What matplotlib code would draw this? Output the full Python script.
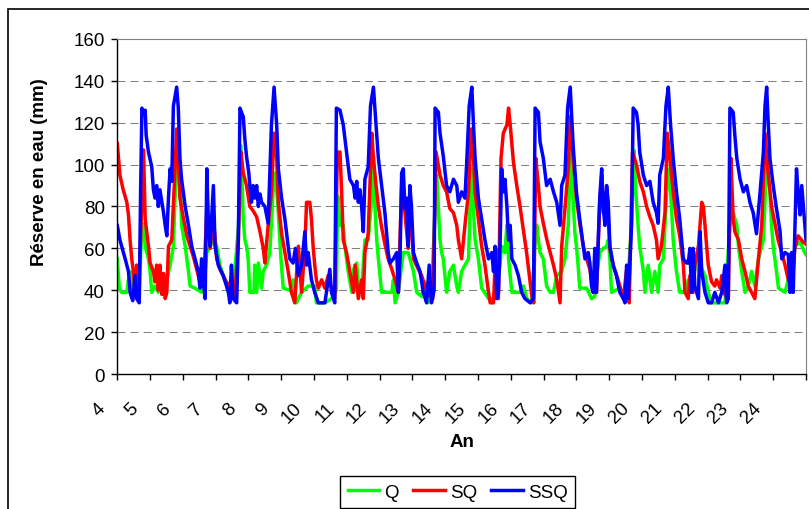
import matplotlib
matplotlib.use('Agg')
import matplotlib.pyplot as plt
import matplotlib.patches as patches
from matplotlib.transforms import ScaledTranslation

plt.rcParams['font.family'] = ['Liberation Sans', 'DejaVu Sans']

# tick labels of the year axis
year_labels = list(range(4, 25))

# SSQ (blue)
ssq_years = [4.00, 4.08, 4.24, 4.34, 4.39, 4.47, 4.54, 4.59, 4.67, 4.71, 4.75, 4.80, 4.85, 4.88, 4.95, 5.05, 5.10, 5.15, 5.20, 5.25,
             5.30, 5.36, 5.41, 5.46, 5.51, 5.56, 5.61, 5.66, 5.71, 5.81, 5.86, 5.91, 5.96, 6.07, 6.17, 6.27, 6.37, 6.47, 6.52, 6.57,
             6.63, 6.68, 6.73, 6.78, 6.83, 6.88, 6.93, 6.98, 7.08, 7.23, 7.39,
             7.43, 7.48, 7.53, 7.64, 7.69, 7.74, 7.81, 7.84, 7.89, 7.94, 8.01, 8.04, 8.09, 8.14, 8.19, 8.25, 8.30, 8.35, 8.40, 8.50,
             8.55, 8.60, 8.65, 8.70, 8.78, 8.86, 8.91, 9.01, 9.11, 9.21, 9.26, 9.36, 9.43, 9.52, 9.62, 9.72, 9.77, 9.82, 9.92, 10.02,
             10.13, 10.33, 10.48, 10.53, 10.63, 10.68,
             10.79, 10.89, 10.99, 11.09, 11.20, 11.25, 11.30, 11.35, 11.40, 11.45, 11.50, 11.55, 11.65, 11.72, 11.81, 11.89, 11.96, 12.06, 12.16, 12.26,
             12.31, 12.42, 12.52, 12.57, 12.62, 12.67, 12.72, 12.77, 12.82, 12.87, 12.92, 12.97, 13.03, 13.13, 13.23, 13.33, 13.43, 13.51, 13.58, 13.66,
             13.69, 13.79, 13.84, 13.94, 14.04, 14.14, 14.25, 14.35,
             14.40, 14.50, 14.60, 14.66, 14.73, 14.81, 14.86, 14.91, 15.01, 15.11, 15.21, 15.32, 15.42, 15.47, 15.52, 15.57, 15.62, 15.67, 15.72, 15.77,
             15.82, 15.88, 15.93, 15.98, 16.03, 16.13, 16.23, 16.33, 16.43, 16.59, 16.69, 16.74, 16.84, 16.89, 16.99, 17.09, 17.20, 17.30, 17.40, 17.50,
             17.55, 17.65, 17.73, 17.81, 17.86,
             17.90, 17.95, 18.00, 18.10, 18.21, 18.26, 18.36, 18.41, 18.46, 18.51, 18.56, 18.61, 18.66, 18.71, 18.77, 18.82, 18.87, 18.92, 18.97, 19.02,
             19.12, 19.22, 19.32, 19.43, 19.48, 19.53, 19.58, 19.68, 19.73, 19.83, 19.88, 19.93, 20.04, 20.14, 20.24, 20.34, 20.44, 20.49, 20.54, 20.65,
             20.73, 20.80, 20.87, 20.95, 21.05, 21.15, 21.26, 21.36,
             21.41, 21.46, 21.51, 21.56, 21.61, 21.72, 21.77, 21.82, 21.92, 22.02, 22.12, 22.22, 22.33, 22.43, 22.53, 22.58, 22.63, 22.68, 22.78, 22.83,
             22.89, 22.99, 23.09, 23.19, 23.29, 23.39, 23.49, 23.60, 23.70, 23.75, 23.80, 23.85, 23.90, 24.00, 24.10, 24.21, 24.26, 24.36, 24.46, 24.51,
             24.56, 24.61, 24.71, 24.76, 24.82, 24.87, 24.95, 25.00]
ssq_vals = [71, 64, 55, 49, 39, 35, 47, 36, 34, 87, 127, 124, 126, 114, 106, 99, 88, 84, 90, 80,
            88, 82, 77, 71, 66, 84, 98, 92, 128, 137, 127, 103, 93, 80, 71, 61, 55, 49, 41, 55,
            43, 36, 98, 71, 61, 76, 90, 61, 52, 47, 39,
            34, 52, 36, 34, 64, 127, 124, 123, 112, 104, 96, 90, 82, 90, 84, 90, 80, 86, 82, 80,
            76, 72, 95, 119, 137, 119, 98, 84, 74, 61, 55, 53, 60, 47, 52, 68, 52, 58, 45, 39,
            34, 34, 50, 39, 34, 127,
            126, 119, 106, 93, 90, 84, 92, 82, 88, 80, 68, 93, 99, 128, 137, 119, 103, 90, 77, 58,
            53, 55, 58, 39, 55, 96, 98, 79, 84, 61, 90, 80, 58, 53, 49, 39, 34, 52, 34, 40,
            127, 125, 115, 104, 90, 87, 93, 90,
            82, 87, 84, 103, 128, 137, 119, 103, 84, 74, 64, 55, 58, 49, 61, 36, 39, 61, 98, 87,
            93, 80, 64, 71, 55, 52, 47, 39, 36, 34, 36, 127, 125, 111, 103, 90, 93, 87, 82, 71,
            90, 95, 127, 137, 122,
            109, 98, 87, 74, 61, 55, 58, 53, 42, 39, 60, 39, 61, 84, 98, 79, 71, 90, 82, 61,
            52, 47, 39, 36, 34, 52, 36, 71, 127, 125, 119, 106, 95, 90, 92, 82, 77, 72, 95, 103,
            128, 137, 119, 103, 87, 74, 55, 53,
            53, 60, 39, 60, 42, 36, 68, 49, 39, 34, 34, 39, 34, 39, 52, 34, 36, 127, 125, 114,
            103, 93, 87, 90, 82, 77, 67, 87, 106, 128, 137, 119, 103, 90, 79, 68, 55, 58, 57, 39,
            58, 39, 98, 87, 76, 90, 74, 64]

# SQ (red)
sq_years = [4.00, 4.08, 4.18, 4.29, 4.34, 4.39, 4.44, 4.49, 4.54, 4.59, 4.64, 4.69, 4.75, 4.80, 4.85, 4.95, 5.00, 5.10, 5.15, 5.20,
            5.25, 5.30, 5.36, 5.41, 5.46, 5.51, 5.56, 5.66, 5.76, 5.81, 5.86, 5.91, 6.02, 6.12, 6.22, 6.32, 6.42, 6.52, 6.63, 6.73,
            6.83, 6.93, 7.03, 7.13, 7.29, 7.39,
            7.48, 7.58, 7.69, 7.77, 7.84, 7.94, 8.04, 8.14, 8.25, 8.35, 8.45, 8.50, 8.60, 8.70, 8.78, 8.86, 8.91, 9.01, 9.11, 9.21,
            9.31, 9.41, 9.52, 9.62, 9.72, 9.77, 9.87, 9.92, 9.97, 10.02, 10.07, 10.13, 10.23, 10.33, 10.43, 10.53, 10.63, 10.71,
            10.79, 10.84, 10.89, 10.99, 11.09, 11.20, 11.25, 11.35, 11.45, 11.50, 11.55, 11.65, 11.76, 11.81, 11.89, 11.96, 12.06, 12.16, 12.26, 12.37,
            12.47, 12.57, 12.67, 12.77, 12.87, 12.92, 13.03, 13.18, 13.28, 13.38, 13.48, 13.62, 13.72, 13.84, 13.94, 14.04, 14.14, 14.25, 14.35,
            14.40, 14.50, 14.60, 14.71, 14.79, 14.86, 14.91, 15.01, 15.11, 15.21, 15.32, 15.37, 15.47, 15.54, 15.62, 15.70, 15.77, 15.88, 15.93, 15.98,
            16.08, 16.18, 16.28, 16.38, 16.48, 16.58, 16.64, 16.70, 16.76, 16.84, 16.89, 16.99, 17.10, 17.20, 17.30, 17.40, 17.50, 17.55, 17.65,
            17.76,
            17.81, 17.90, 18.00, 18.10, 18.21, 18.31, 18.41, 18.51, 18.61, 18.71, 18.77, 18.82, 18.92, 19.02, 19.12, 19.27, 19.43, 19.53, 19.61, 19.71,
            19.83, 19.93, 20.04, 20.14, 20.24, 20.34, 20.44, 20.49, 20.59, 20.70, 20.77, 20.85, 20.95, 21.05, 21.15, 21.26, 21.31, 21.41,
            21.46, 21.56, 21.61, 21.72, 21.82, 21.87, 21.92, 21.97, 22.02, 22.12, 22.22, 22.27, 22.38, 22.43, 22.48, 22.63, 22.71, 22.78, 22.83, 22.94,
            23.04, 23.14, 23.24, 23.34, 23.44, 23.55, 23.65, 23.75, 23.85, 23.95, 24.05, 24.15, 24.26, 24.36, 24.46, 24.56, 24.66, 24.76, 24.91, 25.00]
sq_vals = [110, 95, 88, 82, 76, 64, 55, 49, 39, 52, 41, 55, 84, 107, 74, 61, 53, 49, 44, 52,
           40, 52, 38, 48, 36, 39, 61, 64, 98, 117, 103, 84, 74, 66, 61, 56, 50, 44, 42, 79,
           60, 75, 55, 50, 45, 42,
           45, 36, 64, 106, 96, 90, 80, 78, 75, 68, 60, 53, 71, 87, 115, 103, 82, 67, 58, 49,
           39, 34, 61, 39, 61, 82, 82, 74, 61, 52, 45, 41, 45, 41, 47, 41, 36, 106,
           106, 87, 64, 58, 49, 39, 52, 36, 45, 36, 58, 67, 115, 103, 90, 80, 70, 62, 55, 50,
           45, 39, 90, 77, 60, 84, 55, 50, 47, 42, 38, 36, 106, 95, 90, 87, 79, 77, 71,
           64, 55, 71, 87, 117, 103, 87, 74, 61, 52, 39, 34, 34, 60, 36, 103, 115, 119, 127, 119,
           101, 90, 80, 69, 58, 45, 37, 34, 103, 90, 80, 72, 64, 58, 52, 45, 34, 61, 79,
           100,
           123, 103, 84, 72, 61, 55, 50, 39, 39, 82, 95, 77, 88, 60, 52, 45, 36, 50, 34, 106,
           100, 92, 87, 80, 75, 71, 64, 55, 61, 77, 115, 103, 87, 74, 66, 52, 39, 36,
           47, 39, 52, 61, 82, 80, 71, 61, 52, 44, 42, 45, 41, 47, 39, 36, 103, 74, 68, 64,
           55, 49, 42, 39, 36, 55, 71, 115, 95, 80, 72, 64, 58, 52, 45, 42, 60, 66, 63, 62]

# Q (green)
q_years = [4.00, 4.06, 4.13, 4.29, 4.34, 4.39, 4.44, 4.54, 4.67, 4.75, 4.80, 4.85, 4.95, 5.00, 5.05, 5.15, 5.25, 5.36, 5.46, 5.51,
           5.61, 5.71, 5.76, 5.84, 5.91, 5.96, 6.07, 6.17, 6.22, 6.37, 6.57, 6.68, 6.73, 6.83, 6.93, 7.03, 7.13, 7.23, 7.34,
           7.38, 7.53, 7.69, 7.77, 7.81, 7.84, 7.89, 7.94, 7.99, 8.04, 8.17, 8.19, 8.25, 8.30, 8.40, 8.45, 8.55, 8.65, 8.75, 8.82,
           8.89, 8.93, 8.99, 9.06, 9.26, 9.36, 9.46, 9.62, 9.82, 10.02, 10.07, 10.33, 10.53, 10.68, 10.72,
           10.79, 10.89, 10.94, 11.04, 11.15, 11.20, 11.30, 11.35, 11.45, 11.55, 11.65, 11.76, 11.81, 11.86, 11.91, 11.96, 12.06, 12.37, 12.42, 12.47,
           12.57, 12.67, 12.72, 12.87, 13.03, 13.13, 13.28, 13.38, 13.48, 13.58, 13.64, 13.74, 13.79, 13.84, 13.89, 13.94, 14.04, 14.14, 14.25, 14.35,
           14.40, 14.50, 14.60, 14.71, 14.79, 14.86, 14.91, 15.01, 15.11, 15.32, 15.52, 15.67, 15.72, 15.82, 15.88, 15.93, 16.03, 16.28, 16.38, 16.49,
           16.64, 16.74, 16.79, 16.84, 16.89, 16.99, 17.09, 17.20, 17.30, 17.40, 17.55, 17.65, 17.75, 17.82, 17.88, 17.95,
           18.00, 18.05, 18.10, 18.31, 18.46, 18.56, 18.66, 18.71, 18.82, 18.92, 18.97, 19.02, 19.07, 19.32, 19.43, 19.53, 19.68, 19.75, 19.81, 19.88,
           19.93, 20.04, 20.09, 20.19, 20.29, 20.39, 20.49, 20.54, 20.65, 20.75, 20.83, 20.90, 20.95, 21.05, 21.15, 21.31, 21.41,
           21.51, 21.72, 21.77, 21.92, 22.02, 22.12, 22.53, 22.68, 22.78, 22.89, 22.94, 23.04, 23.14, 23.24, 23.34, 23.44, 23.55, 23.70, 23.80, 23.90,
           23.95, 24.00, 24.10, 24.16, 24.36, 24.46, 24.56, 24.66, 24.82, 24.96, 25.00]
q_vals = [55, 41, 39, 39, 45, 39, 49, 39, 39, 72, 71, 61, 55, 49, 39, 42, 39, 44, 40, 45,
          52, 61, 84, 105, 98, 71, 61, 49, 42, 41, 39, 49, 58, 61, 64, 61, 52, 47, 42,
          39, 40, 69, 109, 88, 74, 64, 61, 55, 39, 39, 52, 39, 53, 41, 49, 52, 58, 87, 96,
          82, 71, 55, 41, 40, 45, 34, 39, 42, 42, 34, 34, 36, 40, 85,
          71, 71, 61, 49, 39, 50, 53, 42, 39, 64, 64, 84, 104, 79, 64, 55, 39, 39, 45, 34,
          39, 52, 58, 58, 49, 39, 37, 44, 34, 40, 61, 95, 79, 64, 58, 55, 39, 49, 52, 42,
          39, 49, 52, 55, 98, 79, 64, 55, 41, 36, 36, 52, 61, 58, 71, 55, 39, 39, 42, 36,
          34, 64, 71, 64, 58, 55, 42, 39, 39, 47, 49, 55, 71, 105, 90, 68,
          61, 52, 41, 41, 36, 37, 52, 58, 60, 61, 64, 55, 39, 41, 39, 36, 71, 107, 87, 71,
          61, 49, 39, 52, 39, 49, 39, 52, 55, 87, 98, 79, 64, 49, 39, 39, 45,
          39, 61, 52, 47, 39, 34, 34, 71, 77, 71, 61, 49, 39, 42, 49, 42, 55, 64, 103, 87,
          71, 61, 49, 41, 39, 45, 39, 61, 63, 58, 57]

fig = plt.figure(figsize=(8.09, 5.10), dpi=100)
ax = fig.add_axes([0.145, 0.2647, 0.8513, 0.6569])

# horizontal dashed gridlines
for yv in range(20, 160, 20):
    ax.axhline(yv, color='#808080', lw=0.75, dashes=(7.7, 4.8), zorder=0)

ax.plot(q_years, q_vals, color='#00FF00', lw=2.5, label='Q')
ax.plot(sq_years, sq_vals, color='#FF0000', lw=2.5, label='SQ')
ax.plot(ssq_years, ssq_vals, color='#0000FF', lw=2.5, label='SSQ')

ax.set_xlim(4, 25)
ax.set_ylim(0, 160)
ax.set_yticks(range(0, 161, 20))
ax.set_xticks(range(4, 26))
ax.set_xticklabels([])
ax.tick_params(axis='y', direction='out', length=4.5, width=1, pad=4.5, labelsize=13.5)
ax.tick_params(axis='x', direction='out', length=4.5, width=1)

for s in ['top', 'right']:
    ax.spines[s].set_color('#808080')
    ax.spines[s].set_linewidth(0.8)
for s in ['left', 'bottom']:
    ax.spines[s].set_color('black')
    ax.spines[s].set_linewidth(1.0)

# rotated year labels
trans = ax.get_xaxis_transform() + ScaledTranslation(-9 / 100, -25 / 100, fig.dpi_scale_trans)
for k in year_labels:
    ax.text(k, 0, str(k), transform=trans, rotation=45, ha='right', va='top', fontsize=13.5)

fig.text(40 / 809, 1 - 172 / 510, 'Réserve en eau (mm)', rotation=90, ha='center', va='center',
         fontsize=13.5, fontweight='bold')
fig.text(462 / 809, 1 - 443 / 510, 'An', ha='center', va='center', fontsize=13.5, fontweight='bold')

leg = fig.legend(loc='upper left', bbox_to_anchor=(340 / 809, 1 - 477 / 510), ncol=3, fontsize=13.5,
                 handlelength=1.7, handletextpad=0.27, columnspacing=0.75, borderpad=0.4,
                 fancybox=False, framealpha=1, edgecolor='black', borderaxespad=0)
leg.get_frame().set_linewidth(1.0)

# chart area border
fig.patches.append(patches.Rectangle((8 / 809, -0.1), 1.2, 1.1 - 10 / 510, transform=fig.transFigure,
                                     fill=False, edgecolor='black', lw=1.2))

fig.savefig('out.png', dpi=100)
